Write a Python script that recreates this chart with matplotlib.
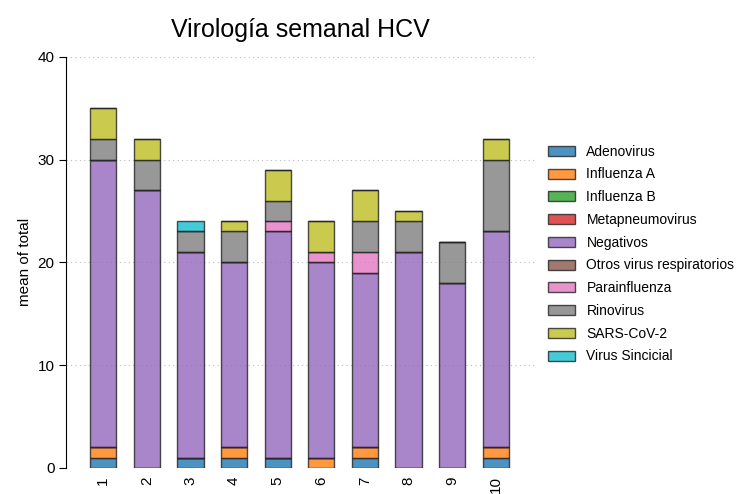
import numpy as np
import matplotlib
matplotlib.use("Agg")
import matplotlib.pyplot as plt

plt.rcParams['font.family'] = ['Liberation Sans', 'DejaVu Sans']

# Datos: casos por semana y tipo de virus
semanas = ['1', '2', '3', '4', '5', '6', '7', '8', '9', '10']
adenovirus = [1, 0, 1, 1, 1, 0, 1, 0, 0, 1]
influenza_a = [1, 0, 0, 1, 0, 1, 1, 0, 0, 1]
influenza_b = [0, 0, 0, 0, 0, 0, 0, 0, 0, 0]
metapneumovirus = [0, 0, 0, 0, 0, 0, 0, 0, 0, 0]
negativos = [28, 27, 20, 18, 22, 19, 17, 21, 18, 21]
otros_virus = [0, 0, 0, 0, 0, 0, 0, 0, 0, 0]
parainfluenza = [0, 0, 0, 0, 1, 1, 2, 0, 0, 0]
rinovirus = [2, 3, 2, 3, 2, 0, 3, 3, 4, 7]
sars_cov_2 = [3, 2, 0, 1, 3, 3, 3, 1, 0, 2]
virus_sincicial = [0, 0, 1, 0, 0, 0, 0, 0, 0, 0]

series = [
    ('Adenovirus', adenovirus),
    ('Influenza A', influenza_a),
    ('Influenza B', influenza_b),
    ('Metapneumovirus', metapneumovirus),
    ('Negativos', negativos),
    ('Otros virus respiratorios', otros_virus),
    ('Parainfluenza', parainfluenza),
    ('Rinovirus', rinovirus),
    ('SARS-CoV-2', sars_cov_2),
    ('Virus Sincicial', virus_sincicial),
]

colores = plt.get_cmap('tab10').colors

fig = plt.figure(figsize=(7.44, 4.94), dpi=100)
ax = fig.add_axes([0.089, 0.053, 0.63, 0.832])

x = np.arange(len(semanas))
base = np.zeros(len(semanas))
for i, (nombre, valores) in enumerate(series):
    valores = np.array(valores, dtype=float)
    ax.bar(x, valores, bottom=base, width=0.6, color=colores[i], alpha=0.8,
           edgecolor='#222222', linewidth=1, label=nombre)
    base += valores

ax.set_xlim(-0.85, 9.9)
ax.set_ylim(0, 40)
ax.set_yticks([0, 10, 20, 30, 40])
ax.set_xticks(x)
ax.set_xticklabels(semanas, rotation=90)
ax.tick_params(axis='x', length=0, labelsize=11, pad=6)
ax.tick_params(axis='y', direction='out', length=5, labelsize=11)
ax.set_ylabel('mean of total', fontsize=11)
ax.yaxis.grid(True, linestyle=(0, (1, 3)), color='#bbbbbb', linewidth=0.8)
ax.set_axisbelow(True)
for lado in ['top', 'right', 'bottom']:
    ax.spines[lado].set_visible(False)

ax.set_title('Virología semanal HCV', fontsize=18, pad=14)

ax.legend(loc='center left', bbox_to_anchor=(1.015, 0.52), frameon=False,
          borderaxespad=0, fontsize=10, handlelength=2.0, handleheight=0.75,
          handletextpad=0.8, labelspacing=0.63)

plt.savefig('out.png', dpi=100)
